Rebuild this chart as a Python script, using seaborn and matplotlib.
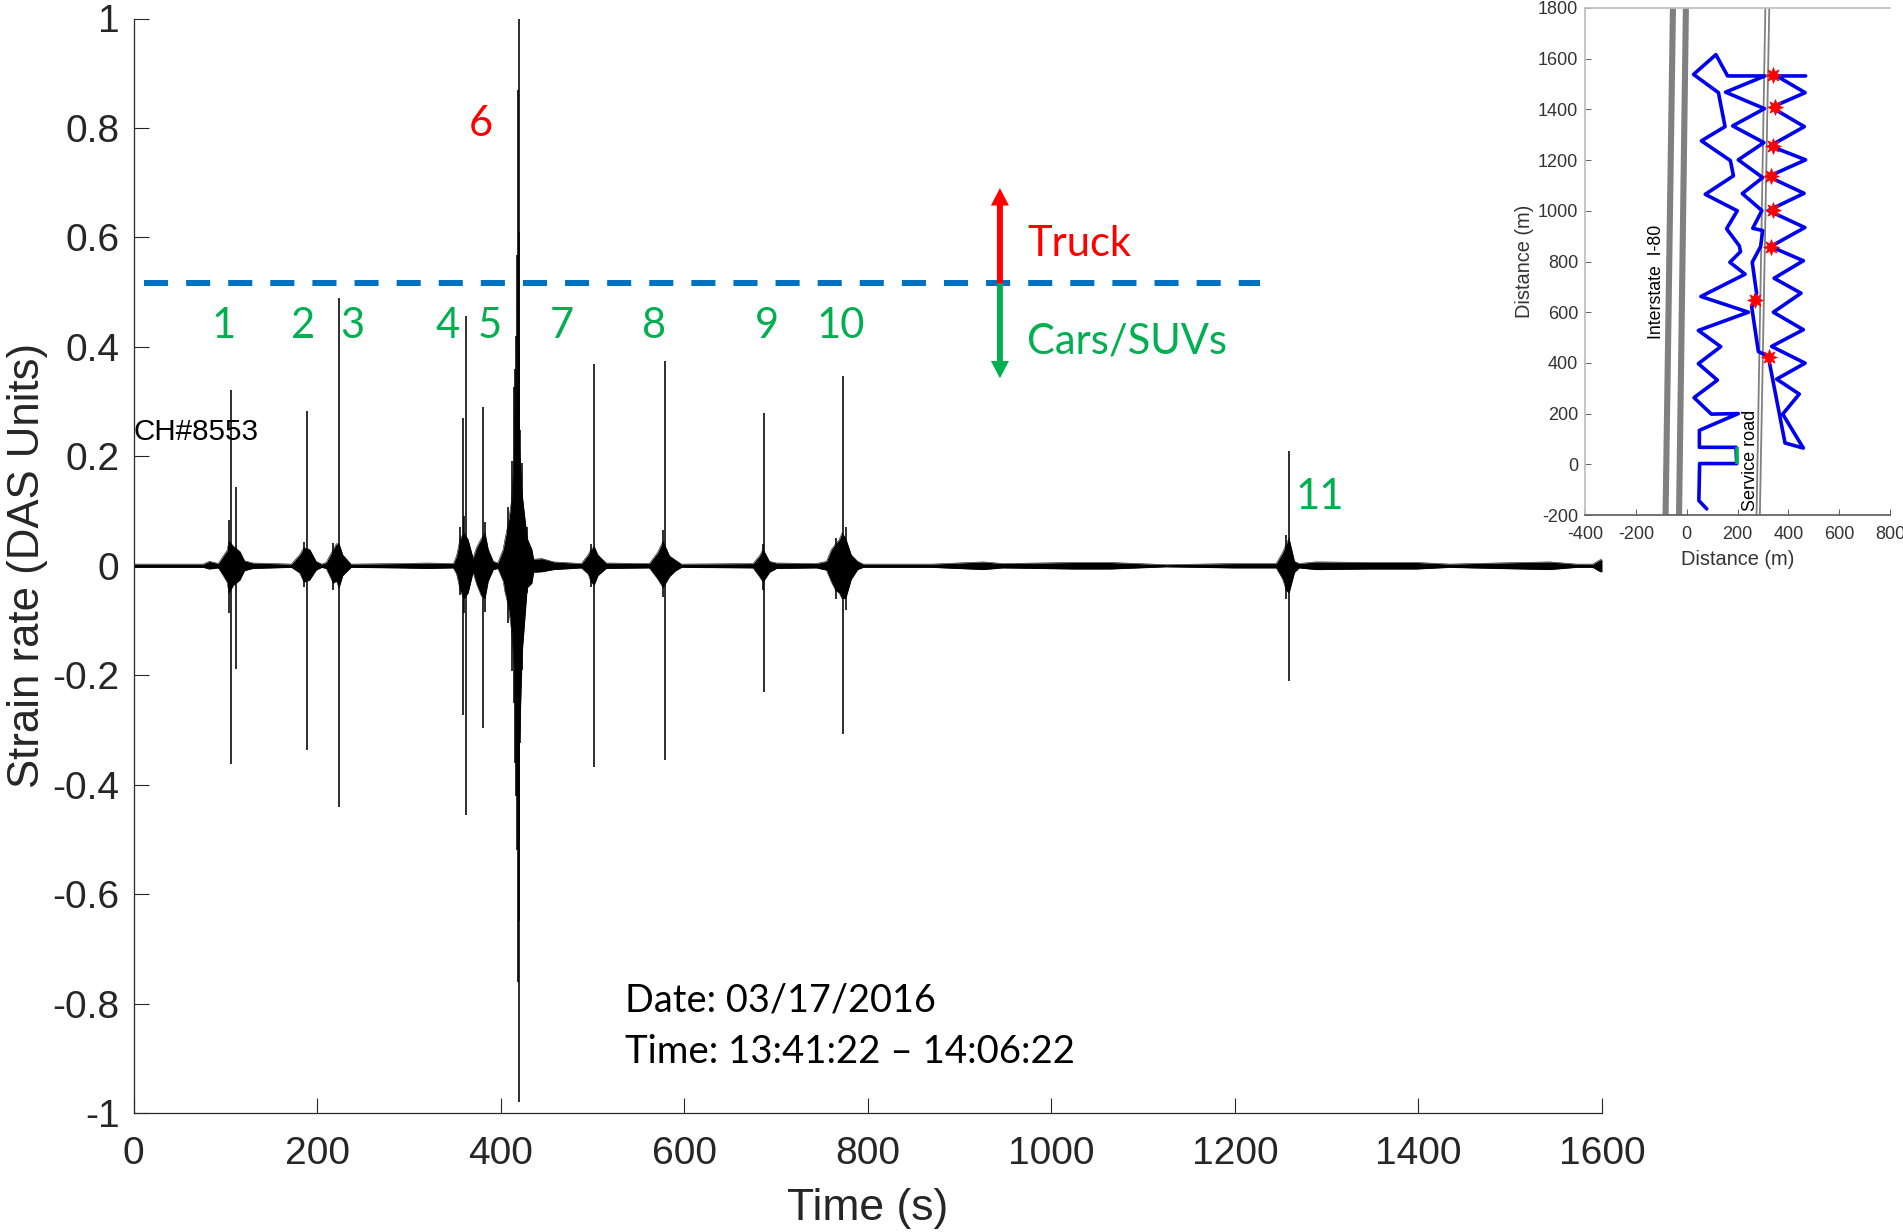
import matplotlib
matplotlib.use('Agg')
from matplotlib import pyplot as plt
import seaborn as sns
import pandas as pd

# envelope of the strain rate trace
trace_t = [0, 40, 76, 82.6, 92.4, 97.8, 102, 104, 108.7, 116, 121, 130, 172, 181, 185.6, 192, 199, 205,
           210, 217.6, 221, 224, 228, 237, 290, 320, 348.5, 352, 356, 360, 364.5, 370, 373.7, 379, 383,
           386.5, 392, 397, 402.8, 404.7, 408, 412, 415.6, 418, 421, 423.5, 429, 434, 436, 445, 458, 488,
           495.3, 498.5, 502, 506, 515, 562, 571, 577, 584, 590, 597, 675, 682, 686, 693, 700.5, 744, 755,
           760.5, 765, 769, 772, 776, 782, 789, 795, 870, 926, 947, 1024, 1064, 1125, 1198, 1245, 1252,
           1256, 1259, 1265, 1270, 1288, 1292, 1347, 1398, 1434, 1485, 1543, 1572, 1590, 1598, 1600]
trace_hi = [.003, .003, .003, .008, .004, .018, .028, .045, .036, .026, .009, .005, .003, .02, .033, .03, .008, .003,
            .006, .03, .04, .04, .02, .003, .004, .005, .004, .018, .05, .06, .048, .014, .033, .05, .06,
            .03, .008, .005, .03, .048, .075, .12, .22, .33, .2, .13, .05, .03, .012, .013, .007, .004,
            .02, .03, .035, .02, .005, .004, .024, .045, .018, .011, .003, .004, .018, .03, .008, .005, .004, .008,
            .03, .04, .048, .06, .05, .02, .008, .003, .003, .007, .004, .006, .006, .002, .004, .004, .024,
            .04, .05, .008, .004, .007, .007, .006, .006, .003, .005, .007, .003, .003, .011, .011]
trace_lo = [-.003, -.003, -.003, -.006, -.004, -.018, -.03, -.05, -.036, -.026, -.009, -.005, -.003, -.013, -.03, -.026, -.008, -.003,
            -.005, -.032, -.028, -.04, -.018, -.003, -.004, -.005, -.004, -.015, -.045, -.06, -.05, -.012, -.033, -.055, -.06,
            -.028, -.007, -.005, -.028, -.048, -.07, -.12, -.2, -.42, -.3, -.16, -.04, -.032, -.012, -.011, -.007, -.004,
            -.015, -.03, -.035, -.018, -.005, -.004, -.024, -.04, -.02, -.01, -.003, -.004, -.02, -.03, -.012, -.005, -.004, -.008,
            -.03, -.045, -.05, -.06, -.06, -.025, -.007, -.003, -.003, -.007, -.004, -.006, -.006, -.002, -.004, -.004, -.024,
            -.045, -.05, -.012, -.004, -.007, -.007, -.006, -.006, -.003, -.005, -.007, -.003, -.003, -.011, -.011]

# sharp peaks on top of the envelope
spike_t = [106.2, 111.6, 189, 224, 358.6, 362, 380.6, 419.5, 418.8, 420, 417.4, 416.8, 416, 415, 420.3, 502, 579, 687.5, 772.5, 1258.6,
           104, 356, 360, 383, 408, 412, 421, 423.5, 429, 765, 776, 577, 498.5, 185.6, 217.6, 686, 1256]
spike_hi = [.322, .143, .282, .49, .27, .457, .291, 1.0, .87, .61, .567, .42, .36, .326, .4, .368, .375, .28, .347, .21,
            .083, .07, .09, .08, .108, .191, .248, .187, .071, .05, .071, .065, .039, .044, .042, .04, .056]
spike_lo = [-.362, -.189, -.336, -.44, -.272, -.455, -.297, -.98, -.76, -.5, -.52, -.42, -.36, -.25, -.65, -.368, -.355, -.23, -.307, -.21,
            -.087, -.053, -.087, -.084, -.105, -.193, -.324, -.19, -.05, -.06, -.081, -.057, -.038, -.038, -.044, -.044, -.06]

x_ticks = [0, 200, 400, 600, 800, 1000, 1200, 1400, 1600]
y_ticks = [-1, -.8, -.6, -.4, -.2, 0, .2, .4, .6, .8, 1]
y_labels = ['-1', '-0.8', '-0.6', '-0.4', '-0.2', '0', '0.2', '0.4', '0.6', '0.8', '1']

threshold = 0.516
threshold_t = [11.4, 1227]
arrow_t = 944
truck_top = 0.69
cars_bottom = 0.3425

car_labels = ['1', '2', '3', '4', '5', '7', '8', '9', '10']
car_label_t = [97.8, 185, 238, 342, 388, 467, 567, 690, 771]

# fibre layout for the inset
fibre_x = [79, 48, 51, 197, 194, 50, 50, 203, 97, 29, 121, 46, 134, 46, 243, 56, 230, 170, 212, 207, 157, 199, 73,
           184, 172, 58, 151, 125, 27, 115, 161, 308, 153, 306, 181, 304, 203, 299, 219, 296, 260, 299, 291, 258,
           275, 256, 282, 321, 387, 459, 378, 443, 354, 466, 334, 459, 341, 450, 344, 459, 330, 465, 321, 462, 321,
           468, 328, 463, 334, 466, 354, 468]
fibre_y = [-176, -143, 3, 3, 67, 67, 134, 200, 198, 263, 332, 397, 464, 528, 600, 662, 750, 797, 839, 862, 929, 1000, 1065,
           1138, 1198, 1276, 1332, 1466, 1538, 1616, 1532, 1532, 1468, 1403, 1335, 1269, 1201, 1131, 1068, 1001, 931, 922, 859, 797,
           675, 620, 445, 425, 84, 64, 198, 277, 336, 399, 465, 531, 600, 675, 734, 803, 859, 934, 1001, 1069, 1135,
           1201, 1256, 1332, 1408, 1466, 1532, 1532]
green_x = [197, 197]
green_y = [3, 67]
star_x = [341, 349, 338, 333, 338, 330, 270, 323]
star_y = [1535, 1410, 1256, 1136, 1002, 859, 649, 424]
road_y = [-200, 1800]
i80_west = [-83, -54]
i80_east = [-30, -3]
service_west = [275, 309.5]
service_east = [288, 325]
inset_x_ticks = [-400, -200, 0, 200, 400, 600, 800]
inset_y_ticks = [-200, 0, 200, 400, 600, 800, 1000, 1200, 1400, 1600, 1800]

sns.set_theme(style='white')
plt.rcParams['font.family'] = ['Liberation Sans', 'DejaVu Sans']
plt.rcParams['axes.unicode_minus'] = False

W, H = 1903, 1232
GREEN = '#00B050'
DARK = '#262626'
fig = plt.figure(figsize=(W / 100, H / 100), dpi=100)
ax = fig.add_axes([133.5 / W, 1 - 1113 / H, 1468.5 / W, 1094.5 / H])

# main trace
trace = pd.DataFrame({'t': trace_t, 'hi': trace_hi, 'lo': trace_lo})
ax.fill_between(trace['t'], trace['lo'], trace['hi'], color='black', lw=0)
sns.lineplot(data=trace, x='t', y='hi', ax=ax, color='black', lw=0.4, estimator=None, sort=False)
sns.lineplot(data=trace, x='t', y='lo', ax=ax, color='black', lw=0.4, estimator=None, sort=False)
ax.vlines(spike_t, spike_lo, spike_hi, color='black', lw=1.15)

ax.set_xlim(0, 1600)
ax.set_ylim(-1, 1)
ax.set_xticks(x_ticks)
ax.set_yticks(y_ticks)
ax.set_yticklabels(y_labels)
ax.tick_params(axis='x', direction='in', length=11, width=0.8, color=DARK, labelcolor=DARK, labelsize=28, pad=16.5, bottom=True)
ax.tick_params(axis='y', direction='in', length=11, width=0.8, color=DARK, labelcolor=DARK, labelsize=28, pad=10, left=True)
sns.despine(ax=ax)
for s in ['left', 'bottom']:
    ax.spines[s].set_color(DARK)
    ax.spines[s].set_linewidth(0.9)
ax.set_xlabel('Time (s)', fontsize=32, color=DARK, va='center')
ax.xaxis.set_label_coords(0.5, -0.0875)
ax.set_ylabel('Strain rate (DAS Units)', fontsize=31.5, color=DARK, va='center')
ax.yaxis.set_label_coords(-0.072, 0.5)

# truck / car threshold
ax.plot(threshold_t, [threshold, threshold], color='#0070C0', lw=4.3, dashes=(4.03, 3.02), dash_capstyle='butt')
ax.annotate('', xy=(arrow_t, truck_top), xytext=(arrow_t, threshold),
            arrowprops=dict(width=4.3, headwidth=13, headlength=12.5, shrink=0, color='#FF0000', lw=0))
ax.annotate('', xy=(arrow_t, cars_bottom), xytext=(arrow_t, threshold),
            arrowprops=dict(width=4.3, headwidth=13, headlength=12.5, shrink=0, color=GREEN, lw=0))

lato = ['Lato', 'DejaVu Sans']
for lab, t in zip(car_labels, car_label_t):
    ax.text(t, 0.4385, lab, color=GREEN, fontsize=30, family=lato, ha='center', va='center')
ax.text(1293, 0.1265, '11', color=GREEN, fontsize=30, family=lato, ha='center', va='center')
ax.text(378, 0.8065, '6', color='#FF0000', fontsize=30, family=lato, ha='center', va='center')
ax.text(974, 0.5875, 'Truck', color='#FF0000', fontsize=30, family=lato, va='center')
ax.text(974, 0.4105, 'Cars/SUVs', color=GREEN, fontsize=30, family=lato, va='center')
ax.text(0.5, 0.2445, 'CH#8553', color='black', fontsize=21.3, va='center')
ax.text(535, -0.7945, 'Date: 03/17/2016', color='black', fontsize=27.3, family=lato, va='center')
ax.text(535, -0.8885, 'Time: 13:41:22 – 14:06:22', color='black', fontsize=27.6, family=lato, va='center')

# inset map
inset = fig.add_axes([1585 / W, 1 - 515 / H, 305 / W, 507 / H])
inset.patch.set_alpha(0)
GREY = '#808080'
inset.plot(i80_west, road_y, color=GREY, lw=4.4, solid_capstyle='butt')
inset.plot(i80_east, road_y, color=GREY, lw=4.4, solid_capstyle='butt')
inset.plot(service_west, road_y, color=GREY, lw=1.3, solid_capstyle='butt')
inset.plot(service_east, road_y, color=GREY, lw=1.3, solid_capstyle='butt')
fibre = pd.DataFrame({'x': fibre_x, 'y': fibre_y})
sns.lineplot(data=fibre, x='x', y='y', ax=inset, color='#0000F0', lw=2.6, estimator=None, sort=False)
inset.plot(green_x, green_y, color=GREEN, lw=2.6, solid_capstyle='butt', zorder=4)
sns.scatterplot(x=star_x, y=star_y, ax=inset, color='#FF0000', marker=(8, 1, 0), s=130, linewidth=0.5, edgecolor='#FF0000', zorder=5)
inset.set_xlim(-400, 800)
inset.set_ylim(-200, 1800)
inset.set_xticks(inset_x_ticks)
inset.set_yticks(inset_y_ticks)
inset.tick_params(axis='y', direction='in', length=4, width=0.7, color='#606060', labelcolor='#333333', labelsize=13, pad=5, left=True)
inset.tick_params(axis='x', direction='in', length=4, width=0.7, color='#606060', labelcolor='#333333', labelsize=13, pad=8, bottom=True)
inset.spines['right'].set_visible(False)
inset.spines['top'].set_color('#BFBFBF')
inset.spines['left'].set_color('#BFBFBF')
inset.spines['left'].set_linewidth(1.3)
inset.spines['bottom'].set_color('#606060')
inset.set_xlabel('Distance (m)', fontsize=14.4, color='#333333', va='center')
inset.xaxis.set_label_coords(0.5, -0.088)
inset.set_ylabel('Distance (m)', fontsize=14.4, color='#333333', va='center')
inset.yaxis.set_label_coords(-0.197, 0.5)
inset.text(-118, 721, 'Interstate  I-80', rotation=90, fontsize=12.8, color='black', ha='center', va='center')
inset.text(252, 17, 'Service road', rotation=90, fontsize=13, color='black', ha='center', va='center')

fig.savefig('out.png', dpi=100)
